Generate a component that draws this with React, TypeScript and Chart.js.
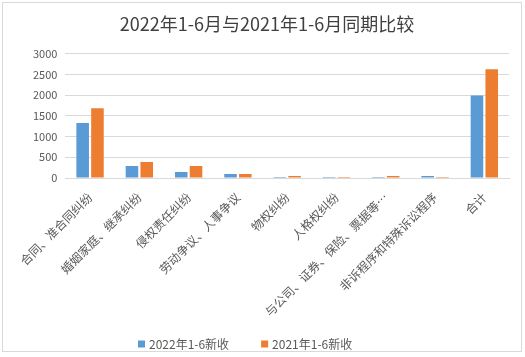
import React, { useEffect, useRef } from "react";
import { Chart, registerables } from "chart.js";

Chart.register(...registerables);

const categories = [
  "合同、准合同纠纷",
  "婚姻家庭、继承纠纷",
  "侵权责任纠纷",
  "劳动争议、人事争议",
  "物权纠纷",
  "人格权纠纷",
  "与公司、证券、保险、票据等…",
  "非诉程序和特殊诉讼程序",
  "合计",
];
const series2022 = [1326, 289, 145, 96, 24, 24, 24, 48, 1990];
const series2021 = [1681, 386, 289, 96, 48, 24, 48, 24, 2620];
const seriesNames = ["2022年1-6新收", "2021年1-6新收"];
const yTicks = [0, 500, 1000, 1500, 2000, 2500, 3000];

const FONT = "'Noto Sans CJK SC', 'Noto Sans', sans-serif";

const bottomLegend = {
  id: "bottomLegend",
  afterDraw(chart: any) {
    const ctx = chart.ctx;
    const y = chart.height - 7;
    let x = 135;
    ctx.save();
    ctx.font = `12px ${FONT}`;
    ctx.textBaseline = "middle";
    ctx.textAlign = "left";
    chart.data.datasets.forEach((ds: any) => {
      ctx.fillStyle = ds.backgroundColor;
      ctx.fillRect(x, y - 3.5, 7, 7);
      ctx.fillStyle = "#595959";
      ctx.fillText(ds.label, x + 11, y);
      x += 11 + ctx.measureText(ds.label).width + 32;
    });
    ctx.restore();
  },
};

export default function App() {
  const ref = useRef<HTMLCanvasElement>(null);
  useEffect(() => {
    if (!ref.current) return;
    const chart = new Chart(ref.current, {
      type: "bar",
      data: {
        labels: categories,
        datasets: [
          {
            label: seriesNames[0],
            data: series2022,
            backgroundColor: "#5b9bd5",
            categoryPercentage: 0.6,
            barPercentage: 0.85,
          },
          {
            label: seriesNames[1],
            data: series2021,
            backgroundColor: "#ed7d31",
            categoryPercentage: 0.6,
            barPercentage: 0.85,
          },
        ],
      },
      plugins: [bottomLegend],
      options: {
        animation: false,
        responsive: false,
        maintainAspectRatio: false,
        layout: { padding: { left: 22, right: 12, top: 4, bottom: 28 } },
        plugins: {
          title: {
            display: true,
            text: "2022年1-6月与2021年1-6月同期比较",
            color: "#404040",
            font: { family: FONT, size: 18, weight: "normal" },
            padding: { top: 6, bottom: 19 },
          },
          legend: { display: false },
          tooltip: { enabled: false },
        },
        scales: {
          x: {
            grid: { display: false },
            border: { color: "#d9d9d9", width: 1 },
            ticks: {
              color: "#595959",
              font: { family: FONT, size: 12 },
              maxRotation: 45,
              minRotation: 45,
              autoSkip: false,
              padding: 4,
            },
          },
          y: {
            min: 0,
            max: 3000,
            afterBuildTicks: (axis: any) => {
              axis.ticks = yTicks.map((v) => ({ value: v }));
            },
            grid: { color: "#d9d9d9", lineWidth: 1, drawTicks: false },
            border: { display: false },
            ticks: {
              color: "#595959",
              font: { family: FONT, size: 11 },
              padding: 8,
              callback: (v: any) => String(v),
            },
          },
        },
      },
    });
    return () => chart.destroy();
  }, []);
  return (
    <div style={{ position: "absolute", left: 0, top: 0, width: 525, height: 357, background: "#fff" }}>
      <div
        style={{
          position: "absolute",
          left: 2,
          top: 2,
          width: 520,
          height: 350,
          border: "1px solid #d9d9d9",
          boxSizing: "border-box",
        }}
      >
        <canvas ref={ref} width={518} height={348} style={{ display: "block" }} />
      </div>
    </div>
  );
}
